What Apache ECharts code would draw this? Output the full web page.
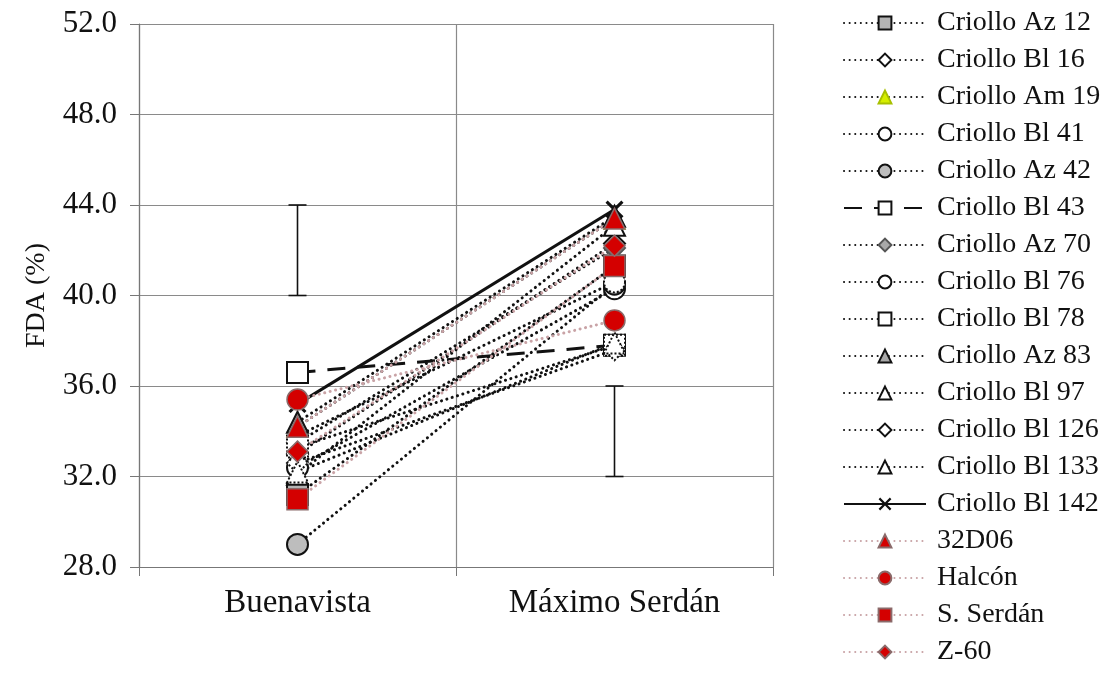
<!DOCTYPE html>
<html>
<head>
<meta charset="utf-8">
<script src="https://cdn.jsdelivr.net/npm/echarts@6/dist/echarts.min.js"></script>
<style>
html,body{margin:0;padding:0;background:#fff;}
#chart{width:1109px;height:673px;}
</style>
</head>
<body>
<div id="chart"></div>
<script>
// ---- data ----
const categories = ['Buenavista', 'Máximo Serdán'];
const yTicks = { min: 28, max: 52, interval: 4 };

const criolloAz12 = [31.2, 41.3];
const criolloBl16 = [33.0, 42.3];
const criolloAm19 = [34.2, 43.4];
const criolloBl41 = [32.4, 40.3];
const criolloAz42 = [29.0, 40.5];
const criolloBl43 = [36.6, 37.8];
const criolloAz70 = [33.5, 42.1];
const criolloBl76 = [33.8, 40.6];
const criolloBl78 = [33.3, 37.8];
const criolloAz83 = [34.4, 43.5];
const criolloBl97 = [32.1, 43.1];
const criolloBl126 = [32.6, 37.6];
const criolloBl133 = [32.2, 37.9];
const criolloBl142 = [35.2, 43.8];
const v32D06 = [34.2, 43.4];
const halcon = [35.4, 38.9];
const sSerdan = [31.0, 41.3];
const z60 = [33.1, 42.2];

// error bars [category index, low, high]
const errorBars = [[0, 40, 44], [1, 32, 36]];

// ---- styles ----
const FONT = 'Liberation Serif';
const dotted = [0.1, 5.5];
const dotLine = { color: '#111', width: 3, type: dotted, cap: 'round' };
const pinkLine = { color: '#c9a3a6', width: 3, type: dotted, cap: 'round' };
const XPATH = 'path://M0,1.2L1.2,0L5,3.8L8.8,0L10,1.2L6.2,5L10,8.8L8.8,10L5,6.2L1.2,10L0,8.8L3.8,5Z';

function s(name, data, symbol, item, line, size) {
  return {
    name: name, type: 'line', data: data,
    symbol: symbol, symbolSize: size || 21,
    itemStyle: item, lineStyle: line,
    emphasis: { disabled: true }, animation: false, z: 3
  };
}
const blackB = { borderColor: '#111', borderWidth: 2 };
const redItem = { color: '#d40000', borderColor: '#8a6a6a', borderWidth: 1.5 };

const series = [
  s('Criollo Az 12', criolloAz12, 'rect', Object.assign({ color: '#b4b4b4' }, blackB), dotLine),
  s('Criollo Bl 16', criolloBl16, 'diamond', Object.assign({ color: '#fff' }, blackB), dotLine),
  s('Criollo Am 19', criolloAm19, 'triangle', { color: '#d6ee00', borderColor: '#a8c000', borderWidth: 1.5 }, dotLine),
  s('Criollo Bl 41', criolloBl41, 'circle', Object.assign({ color: '#fff' }, blackB), dotLine),
  s('Criollo Az 42', criolloAz42, 'circle', Object.assign({ color: '#bdbdbd' }, blackB), dotLine),
  s('Criollo Bl 43', criolloBl43, 'rect', Object.assign({ color: '#fff' }, blackB), { color: '#111', width: 3, type: [18, 12] }),
  s('Criollo Az 70', criolloAz70, 'diamond', { color: '#a8a8a8', borderColor: '#555', borderWidth: 2 }, dotLine),
  s('Criollo Bl 76', criolloBl76, 'circle', { color: '#fff', borderColor: '#111', borderWidth: 2, borderType: 'dotted' }, dotLine),
  s('Criollo Bl 78', criolloBl78, 'rect', { color: '#fff', borderColor: '#111', borderWidth: 2, borderType: 'dotted' }, dotLine),
  s('Criollo Az 83', criolloAz83, 'triangle', Object.assign({ color: '#a8a8a8' }, blackB), dotLine),
  s('Criollo Bl 97', criolloBl97, 'triangle', Object.assign({ color: '#fff' }, blackB), dotLine),
  s('Criollo Bl 126', criolloBl126, 'diamond', { color: '#fff', borderColor: '#111', borderWidth: 2, borderType: 'dotted' }, dotLine),
  s('Criollo Bl 133', criolloBl133, 'triangle', { color: '#fff', borderColor: '#111', borderWidth: 2, borderType: 'dotted' }, dotLine),
  s('Criollo Bl 142', criolloBl142, XPATH, { color: '#111' }, { color: '#111', width: 3, type: 'solid' }, 18),
  s('32D06', v32D06, 'triangle', redItem, pinkLine),
  s('Halcón', halcon, 'circle', redItem, pinkLine),
  s('S. Serdán', sSerdan, 'rect', redItem, pinkLine),
  s('Z-60', z60, 'diamond', redItem, pinkLine)
];

series.push({
  name: 'LSD', type: 'custom', data: errorBars, z: 2, silent: true, animation: false,
  renderItem: function (params, api) {
    const x = api.value(0);
    const lo = api.coord([x, api.value(1)]);
    const hi = api.coord([x, api.value(2)]);
    const cap = 9;
    const st = { stroke: '#111', lineWidth: 1.6 };
    return {
      type: 'group',
      children: [
        { type: 'line', shape: { x1: lo[0], y1: lo[1], x2: hi[0], y2: hi[1] }, style: st },
        { type: 'line', shape: { x1: lo[0] - cap, y1: lo[1], x2: lo[0] + cap, y2: lo[1] }, style: st },
        { type: 'line', shape: { x1: hi[0] - cap, y1: hi[1], x2: hi[0] + cap, y2: hi[1] }, style: st }
      ]
    };
  }
});

const chart = echarts.init(document.getElementById('chart'), null, { renderer: 'canvas' });
chart.setOption({
  backgroundColor: '#fff',
  animation: false,
  textStyle: { fontFamily: FONT },
  grid: { left: 139, right: 336, top: 24, bottom: 106, containLabel: false },
  legend: {
    orient: 'vertical', left: 843, top: 9, padding: 0,
    itemWidth: 82, itemHeight: 16, itemGap: 9,
    data: series.filter(x => x.type === 'line').map(x => x.name),
    textStyle: { fontFamily: FONT, fontSize: 28, color: '#111', lineHeight: 28, padding: [0, 0, 0, 6] },
    selectedMode: false
  },
  xAxis: {
    type: 'category', data: categories, boundaryGap: true,
    axisLine: { show: true, lineStyle: { color: '#777', width: 1.2 } },
    axisTick: { show: true, length: 9, lineStyle: { color: '#777' }, alignWithLabel: false },
    splitLine: { show: true, lineStyle: { color: '#8a8a8a', width: 1.2 } },
    axisLabel: { fontFamily: FONT, fontSize: 33, color: '#111', margin: 20 }
  },
  yAxis: {
    type: 'value', min: yTicks.min, max: yTicks.max, interval: yTicks.interval,
    name: 'FDA (%)', nameLocation: 'middle', nameGap: 88, nameRotate: 90,
    nameTextStyle: { fontFamily: FONT, fontSize: 28, color: '#111' },
    axisLine: { show: true, lineStyle: { color: '#777', width: 1.2 } },
    axisTick: { show: true, length: 9, lineStyle: { color: '#777' } },
    splitLine: { show: true, lineStyle: { color: '#8a8a8a', width: 1.2 } },
    axisLabel: { fontFamily: FONT, fontSize: 31, color: '#111', margin: 22, formatter: v => v.toFixed(1) }
  },
  series: series
});
</script>
</body>
</html>
